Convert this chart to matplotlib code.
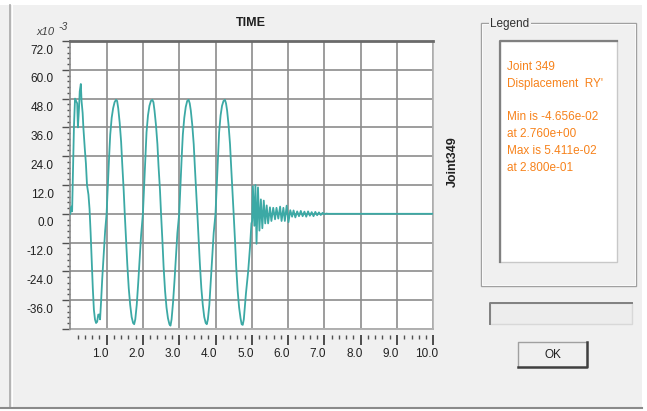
import numpy as np
import matplotlib
matplotlib.use('Agg')
import matplotlib.pyplot as plt
from matplotlib.patches import Rectangle
from matplotlib.transforms import ScaledTranslation

plt.rcParams['font.family'] = ['Liberation Sans', 'DejaVu Sans']

# ---------------------------------------------------------------------------
# Time history (time in s, displacement in 1e-3 rad)
# ---------------------------------------------------------------------------
forced_t = [0.00, 0.03, 0.05, 0.08, 0.10, 0.13, 0.16, 0.19, 0.21, 0.24, 0.26,
            0.29, 0.31, 0.34, 0.36, 0.40, 0.43, 0.46, 0.50, 0.53, 0.56, 0.59,
            0.62, 0.65, 0.68, 0.71, 0.74, 0.77, 0.80, 0.82, 0.85, 0.88, 0.92,
            0.96,
            1.00, 1.04, 1.07, 1.10, 1.14, 1.18, 1.22, 1.26, 1.29, 1.32, 1.36,
            1.40, 1.43, 1.47, 1.50, 1.54, 1.57, 1.61, 1.65, 1.69, 1.73, 1.76,
            1.79, 1.83, 1.87, 1.91, 1.95,
            2.00, 2.04, 2.07, 2.10, 2.14, 2.18, 2.22, 2.26, 2.29, 2.32, 2.36,
            2.40, 2.43, 2.47, 2.50, 2.54, 2.57, 2.61, 2.65, 2.69, 2.73, 2.76,
            2.79, 2.83, 2.87, 2.91, 2.95,
            3.00, 3.04, 3.07, 3.10, 3.14, 3.18, 3.22, 3.26, 3.29, 3.32, 3.36,
            3.40, 3.43, 3.47, 3.50, 3.54, 3.57, 3.61, 3.65, 3.69, 3.73, 3.76,
            3.79, 3.83, 3.87, 3.91, 3.95,
            4.00, 4.04, 4.07, 4.10, 4.14, 4.18, 4.22, 4.26, 4.29, 4.32, 4.36,
            4.40, 4.43, 4.47, 4.50, 4.54, 4.57, 4.61, 4.65, 4.69, 4.72, 4.75,
            4.78, 4.84, 4.90, 4.95, 4.99]
forced_v = [0.0, 3.0, 1.0, 22.0, 36.0, 48.0, 47.0, 46.0, 36.0, 44.0, 51.0,
            54.1, 47.0, 42.0, 36.0, 27.0, 21.0, 12.0, 8.0, 2.0, -8.0, -20.0,
            -31.0, -40.0, -44.0, -45.5, -45.0, -42.0, -42.0, -44.0, -36.0,
            -27.0, -17.0, -7.0,
            0.0, 14.0, 24.0, 33.0, 40.0, 44.0, 46.5, 47.5, 47.0, 44.0, 38.0,
            30.0, 21.0, 10.0, 0.0, -12.0, -21.0, -31.0, -38.0, -43.0, -45.5,
            -46.0, -44.0, -38.0, -29.0, -19.0, -9.0,
            0.0, 14.0, 25.0, 34.0, 41.0, 45.0, 47.0, 47.5, 46.5, 43.0, 37.0,
            29.0, 20.0, 10.0, 0.0, -12.0, -22.0, -32.0, -39.0, -43.5, -46.0,
            -46.6, -44.0, -37.0, -28.0, -18.0, -8.0,
            0.0, 14.0, 24.0, 33.0, 40.0, 44.5, 47.0, 47.5, 46.0, 43.0, 37.0,
            29.0, 20.0, 9.0, 0.0, -12.0, -21.0, -31.0, -38.0, -43.0, -45.5,
            -46.0, -44.0, -38.0, -28.0, -18.0, -8.0,
            0.0, 14.0, 25.0, 34.0, 41.0, 45.0, 47.0, 47.5, 46.0, 43.0, 37.0,
            29.0, 20.0, 9.0, 0.0, -12.0, -22.0, -32.0, -39.0, -43.5, -46.0,
            -46.3, -44.0, -33.0, -24.0, -14.0, -4.0]

free_t = [5.01, 5.03, 5.07, 5.10, 5.13, 5.17, 5.21, 5.25, 5.29, 5.33, 5.37,
          5.41, 5.45, 5.50, 5.54, 5.59, 5.64, 5.68, 5.73, 5.78, 5.82, 5.87,
          5.91, 5.96, 6.01, 6.06, 6.11, 6.15, 6.20, 6.25, 6.30, 6.35, 6.40,
          6.45, 6.50, 6.55, 6.60, 6.65, 6.70, 6.75, 6.80, 6.85, 6.90, 6.95,
          7.00, 7.05, 7.10, 10.00]
free_v = [-3.0, 11.5, -5.0, 12.0, -12.5, 11.0, -7.0, 6.0, -6.0, 5.5, -4.0,
          3.5, -4.0, 2.7, -3.0, 2.5, -2.3, 2.5, -2.0, 3.0, -3.0, 2.5,
          -3.0, 3.4, -3.5, 1.5, -1.2, 1.4, -1.5, 1.0, -1.0, 1.2,
          -1.0, 0.9, -1.2, 1.0, -0.8, 0.7, -1.0, 0.8, -0.6, 0.6, -0.5, 0.4,
          -0.2, 0.1, 0.0, 0.0]

y_ticks = [-48, -36, -24, -12, 0, 12, 24, 36, 48, 60, 72]
y_labels = ['', '-36.0', '-24.0', '-12.0', '0.0', '12.0', '24.0', '36.0',
            '48.0', '60.0', '72.0']
x_ticks = [1, 2, 3, 4, 5, 6, 7, 8, 9, 10]
x_labels = ['1.0', '2.0', '3.0', '4.0', '5.0', '6.0', '7.0', '8.0', '9.0', '10.0']

legend_lines = ['Joint 349', "Displacement  RY'", '',
                'Min is -4.656e-02', 'at 2.760e+00',
                'Max is 5.411e-02', 'at 2.800e-01']

W, H = 647, 411
fig = plt.figure(figsize=(W / 100, H / 100), dpi=100, facecolor='white')

# ---------------------------------------------------------------------------
# dialog background drawn in pixel coordinates
# ---------------------------------------------------------------------------
bg = fig.add_axes([0, 0, 1, 1])
bg.set_xlim(0, W)
bg.set_ylim(H, 0)
bg.axis('off')
bg.add_patch(Rectangle((0, 5), 642, 403, facecolor='#f0f0f0', edgecolor='none'))
bg.plot([10, 10], [5, 408], color='#a8a8a8', lw=1.2)
bg.plot([11.5, 11.5], [5, 408], color='white', lw=0.8)
bg.plot([0, 642], [408, 408], color='#8a8a8a', lw=1.5)

# legend group box
bg.add_patch(Rectangle((481, 23), 155, 263, facecolor='none', edgecolor='#a0a0a0', lw=1))
bg.add_patch(Rectangle((482, 24), 153, 261, facecolor='none', edgecolor='white', lw=0.6))
bg.text(490, 24, 'Legend', fontsize=8.5, color='#303030', va='center', ha='left',
        bbox=dict(facecolor='#f0f0f0', edgecolor='none', pad=1))
bg.add_patch(Rectangle((500, 41), 117, 221, facecolor='white', edgecolor='#c8c8c8', lw=1))
bg.plot([500, 500, 617], [262, 41, 41], color='#808080', lw=1.6)
for i, line in enumerate(legend_lines):
    bg.text(507, 67 + i * 16.8, line, fontsize=8.5, color='#f7821b', va='center', ha='left')

# side label
bg.text(453, 162, 'Joint349', fontsize=9, fontweight='bold', rotation=90,
        ha='center', va='center', color='#202020')

# empty status box
bg.add_patch(Rectangle((490, 303), 142, 21, facecolor='#ededed', edgecolor='#d8d8d8', lw=1))
bg.plot([490, 490, 632], [324, 303, 303], color='#808080', lw=1.4)

# OK button
bg.add_patch(Rectangle((518, 342), 69, 25, facecolor='#f0f0f0', edgecolor='none'))
bg.plot([518, 518, 587], [367, 342, 342], color='#a0a0a0', lw=1)
bg.plot([518, 587, 587], [367, 367, 342], color='#404040', lw=1.8)
bg.text(552.5, 354.5, 'OK', fontsize=8.5, ha='center', va='center', color='#202020')

# chart texts
bg.text(251, 23, 'TIME', fontsize=9, fontweight='bold', ha='center', va='center',
        color='#202020')
bg.text(36, 32, 'x10', fontsize=8, style='italic', ha='left', va='center', color='#404040')
bg.text(58, 27, '-3', fontsize=7.5, style='italic', ha='left', va='center', color='#404040')

# ---------------------------------------------------------------------------
# time history plot
# ---------------------------------------------------------------------------
left, right, top, bottom = 70.3, 433.3, 41, 329
ax = fig.add_axes([left / W, 1 - bottom / H, (right - left) / W, (bottom - top) / H])
ax.set_facecolor('white')
ax.set_xlim(0, 10)
ax.set_ylim(-48, 72)

ax.plot(forced_t + free_t, forced_v + free_v, color='#3ca9a5', lw=1.3, zorder=3)

ax.set_yticks(y_ticks, y_labels)
ax.set_yticks(np.arange(-48, 72.01, 2.4), minor=True)
ax.set_xticks(x_ticks, x_labels)
ax.set_xticks([t / 5 for t in range(1, 50) if t % 5 != 0], minor=True)
ax.grid(True, which='major', color='#8c8c8c', lw=1.2, zorder=1)
ax.set_axisbelow(True)

ax.tick_params(axis='y', which='major', length=6, width=1, color='#505050',
               labelsize=8.5, labelcolor='#202020', pad=6)
ax.tick_params(axis='y', which='minor', length=2.5, width=1, color='#505050')
ax.tick_params(axis='x', which='major', length=7.5, width=1.2, color='#303030',
               labelsize=8.5, labelcolor='#202020', pad=2)
ax.tick_params(axis='x', which='minor', length=3, width=1, color='#505050')

ax.spines['bottom'].set_position(('outward', 4.5))
ax.spines['bottom'].set_visible(False)
ax.spines['top'].set_color('#6a6a6a')
ax.spines['top'].set_linewidth(2)
ax.spines['left'].set_color('#8a8a8a')
ax.spines['left'].set_linewidth(1.2)
ax.spines['right'].set_color('#b0b0b0')
ax.spines['right'].set_linewidth(1.2)
ax.axhline(-48, color='#b0b0b0', lw=1.4, clip_on=False, zorder=2)

for lab in ax.get_yticklabels():
    lab.set_transform(lab.get_transform() + ScaledTranslation(0, -0.08, fig.dpi_scale_trans))
for lab in ax.get_xticklabels():
    lab.set_transform(lab.get_transform() + ScaledTranslation(-0.065, 0, fig.dpi_scale_trans))

fig.savefig('out.png', dpi=100, facecolor='white')
